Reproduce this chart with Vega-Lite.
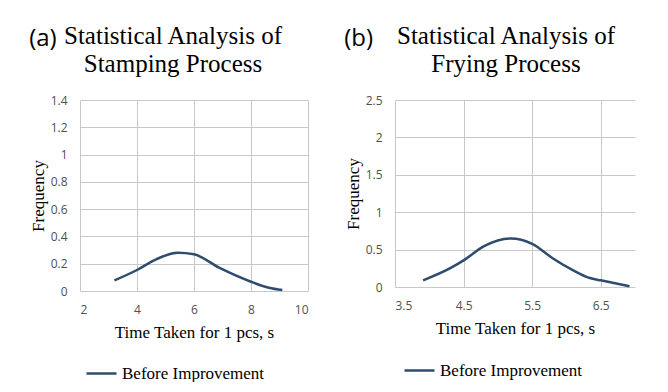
{
  "$schema": "https://vega.github.io/schema/vega-lite/v6.json",
  "padding": {"left": 29, "top": 24, "right": 11, "bottom": 0},
  "spacing": 36,
  "background": "white",
  "datasets": {
    "stamping": [
      {"time": 3.21, "frequency": 0.078, "series": "Before Improvement"},
      {"time": 4.0, "frequency": 0.154, "series": "Before Improvement"},
      {"time": 4.67, "frequency": 0.232, "series": "Before Improvement"},
      {"time": 5.43, "frequency": 0.28, "series": "Before Improvement"},
      {"time": 6.0, "frequency": 0.269, "series": "Before Improvement"},
      {"time": 6.88, "frequency": 0.171, "series": "Before Improvement"},
      {"time": 8.0, "frequency": 0.068, "series": "Before Improvement"},
      {"time": 8.63, "frequency": 0.024, "series": "Before Improvement"},
      {"time": 9.1, "frequency": 0.007, "series": "Before Improvement"}
    ],
    "frying": [
      {"time": 3.91, "frequency": 0.089, "series": "Before Improvement"},
      {"time": 4.32, "frequency": 0.258, "series": "Before Improvement"},
      {"time": 4.5, "frequency": 0.356, "series": "Before Improvement"},
      {"time": 4.8, "frequency": 0.547, "series": "Before Improvement"},
      {"time": 5.19, "frequency": 0.649, "series": "Before Improvement"},
      {"time": 5.5, "frequency": 0.578, "series": "Before Improvement"},
      {"time": 5.81, "frequency": 0.378, "series": "Before Improvement"},
      {"time": 6.1, "frequency": 0.222, "series": "Before Improvement"},
      {"time": 6.34, "frequency": 0.12, "series": "Before Improvement"},
      {"time": 6.5, "frequency": 0.089, "series": "Before Improvement"},
      {"time": 6.92, "frequency": 0.01, "series": "Before Improvement"}
    ]
  },
  "config": {
    "view": {"stroke": null},
    "axis": {
      "labelFont": "Open Sans",
      "labelFontSize": 12,
      "labelColor": "#505050",
      "titleFont": "Liberation Serif",
      "titleFontSize": 17,
      "titleFontWeight": "normal",
      "titleColor": "#000000",
      "gridColor": "#c8c8c8",
      "gridWidth": 1,
      "gridOpacity": 1,
      "domain": false,
      "ticks": false
    },
    "legend": {
      "labelFont": "Liberation Serif",
      "labelFontSize": 17,
      "labelColor": "#000000",
      "symbolType": "stroke",
      "symbolSize": 900,
      "symbolStrokeWidth": 2.5
    }
  },
  "resolve": {"scale": {"color": "independent"}, "legend": {"color": "independent"}},
  "hconcat": [
    {
      "title": {"text": "(a)", "font": "Open Sans", "fontSize": 24, "fontWeight": "normal", "color": "#000000", "anchor": "start", "offset": -27},
      "vconcat": [
        {
          "data": {"name": "stamping"},
          "title": {"text": ["Statistical Analysis of", "Stamping Process"], "font": "Liberation Serif", "fontSize": 25, "lineHeight": 28, "fontWeight": "normal", "color": "#000000", "anchor": "middle", "frame": "group", "offset": 17, "dx": -21},
          "width": 228,
          "height": 191,
          "mark": {"type": "line", "interpolate": "monotone", "strokeWidth": 2.5},
          "encoding": {
            "x": {"field": "time", "type": "quantitative", "scale": {"domain": [2, 10]}, "axis": {"values": [2, 4, 6, 8, 10], "title": "Time Taken for 1 pcs, s", "labelPadding": 13, "titlePadding": 9}},
            "y": {"field": "frequency", "type": "quantitative", "scale": {"domain": [0, 1.4]}, "axis": {"values": [0, 0.2, 0.4, 0.6, 0.8, 1, 1.2, 1.4], "format": "~g", "title": "Frequency", "labelPadding": 13, "titlePadding": 3}},
            "color": {"field": "series", "type": "nominal", "scale": {"range": ["#2e4c6d"]}, "legend": {"title": null, "orient": "none", "legendX": 5, "legendY": 257}}
          }
        }
      ]
    },
    {
      "title": {"text": "(b)", "font": "Open Sans", "fontSize": 24, "fontWeight": "normal", "color": "#000000", "anchor": "start", "offset": -27},
      "vconcat": [
        {
          "data": {"name": "frying"},
          "title": {"text": ["Statistical Analysis of", "Frying Process"], "font": "Liberation Serif", "fontSize": 25, "lineHeight": 28, "fontWeight": "normal", "color": "#000000", "anchor": "middle", "frame": "group", "offset": 17, "dx": -9},
          "width": 240,
          "height": 187,
          "mark": {"type": "line", "interpolate": "monotone", "strokeWidth": 2.5},
          "encoding": {
            "x": {"field": "time", "type": "quantitative", "scale": {"domain": [3.5, 7]}, "axis": {"values": [3.5, 4.5, 5.5, 6.5], "format": ".1f", "title": "Time Taken for 1 pcs, s", "labelPadding": 13, "titlePadding": 9}},
            "y": {"field": "frequency", "type": "quantitative", "scale": {"domain": [0, 2.5]}, "axis": {"values": [0, 0.5, 1, 1.5, 2, 2.5], "format": "~g", "title": "Frequency", "labelPadding": 13, "titlePadding": 3}},
            "color": {"field": "series", "type": "nominal", "scale": {"range": ["#2e4c6d"]}, "legend": {"title": null, "orient": "none", "legendX": 8, "legendY": 254}}
          }
        }
      ]
    }
  ]
}
